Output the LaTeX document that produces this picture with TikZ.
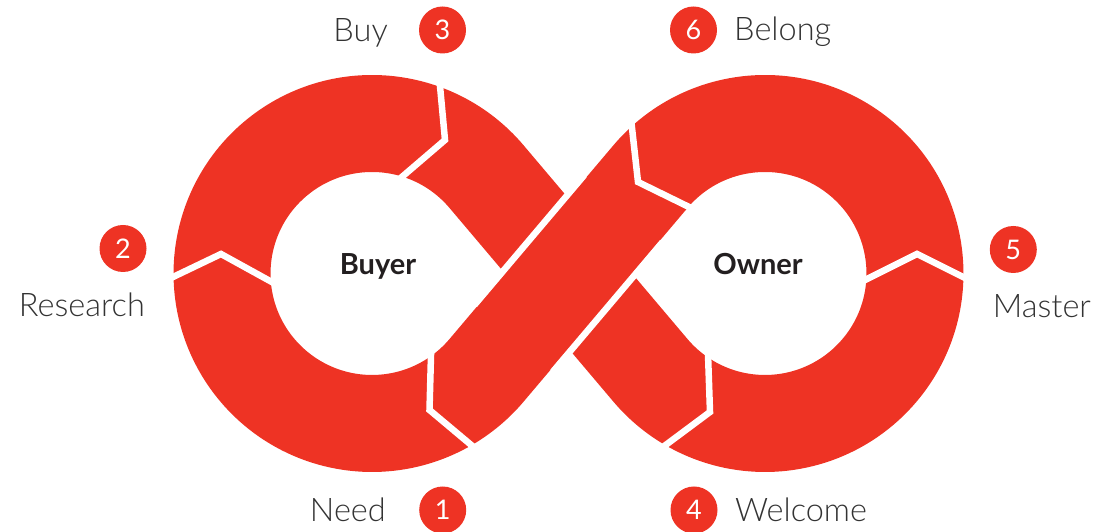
\documentclass[tikz,border=0pt]{standalone}
\usepackage{fontspec}
\setmainfont{Lato}[UprightFont=* Light, BoldFont=* Bold]
\newfontfamily\digitfont{Lato}
\definecolor{loopred}{RGB}{238,51,36}
\definecolor{labelgray}{RGB}{51,51,51}
\definecolor{hubtext}{RGB}{35,31,32}

\begin{document}
\begin{tikzpicture}[x=1pt,y=1pt,
  band/.style={draw=loopred, line width=97pt, line join=round},
  gapline/.style={draw=white, line width=6.5pt},
  divider/.style={draw=white, line width=6.5pt, line join=miter,
                  shorten <=-10pt, shorten >=-10pt},
  badge/.style={circle, fill=loopred, minimum size=47pt, inner sep=0pt,
                text=white, font=\digitfont\fontsize{27}{27}\selectfont},
  stage/.style={text=labelgray, inner sep=0pt, font=\fontsize{32.5}{32.5}\selectfont},
  hub/.style={text=hubtext, inner sep=0pt, font=\bfseries\fontsize{29}{29}\selectfont}]

\useasboundingbox (0,0) rectangle (1095,532);

% loop centres and the tangent points of the crossing lines
\coordinate (cl) at (372,258.5);
\coordinate (cr) at (765,258.5);
\coordinate (t1) at (650.48,355.40);
\coordinate (t3) at (486.52,355.40);

% the figure-eight band as one wide stroke
\draw[band] (t1) arc[start angle=139.76, end angle=-139.76, radius=150]
  -- (t3) arc[start angle=40.24, end angle=319.76, radius=150] -- cycle;

% white gaps where the rising band passes over the falling one
\coordinate (g1a) at (474.29,226.87);
\coordinate (g1b) at (584.09,356.65);
\coordinate (g2a) at (552.91,160.35);
\coordinate (g2b) at (662.71,290.13);
\draw[gapline] (g1a) -- (g1b);
\draw[gapline] (g2a) -- (g2b);

% chevron dividers between the stages
\draw[divider] (173,255) -- (221,278) -- (270,251);
\draw[divider] (440,446) -- (445,392) -- (403,356);
\draw[divider] (431,177) -- (429.5,122) -- (470,88);
\draw[divider] (632,404) -- (638,350) -- (687,326);
\draw[divider] (963,255) -- (917,278) -- (867,253);
\draw[divider] (708,178) -- (710,120) -- (667,88);

% centre labels
\node[hub, anchor=base] (buyer) at (378,257) {Buyer};
\node[hub, anchor=base] (owner) at (758,257) {Owner};

% numbered stages
\node[badge] (b1) at (442.7,22) {1};
\node[badge] (b2) at (123,283.5) {2};
\node[badge] (b3) at (442.5,502) {3};
\node[badge] (b4) at (694,22) {4};
\node[badge] (b5) at (1013.3,282.5) {5};
\node[badge] (b6) at (693.5,502) {6};

\node[stage, anchor=base east] (need) at (386,10) {Need};
\node[stage, anchor=base east] (research) at (145,215) {Research};
\node[stage, anchor=base east] (buy) at (388,490) {Buy};
\node[stage, anchor=base west] (welcome) at (735,10) {Welcome};
\node[stage, anchor=base west] (master) at (992.7,214) {Master};
\node[stage, anchor=base west] (belong) at (734,491) {Belong};
\end{tikzpicture}
\end{document}
